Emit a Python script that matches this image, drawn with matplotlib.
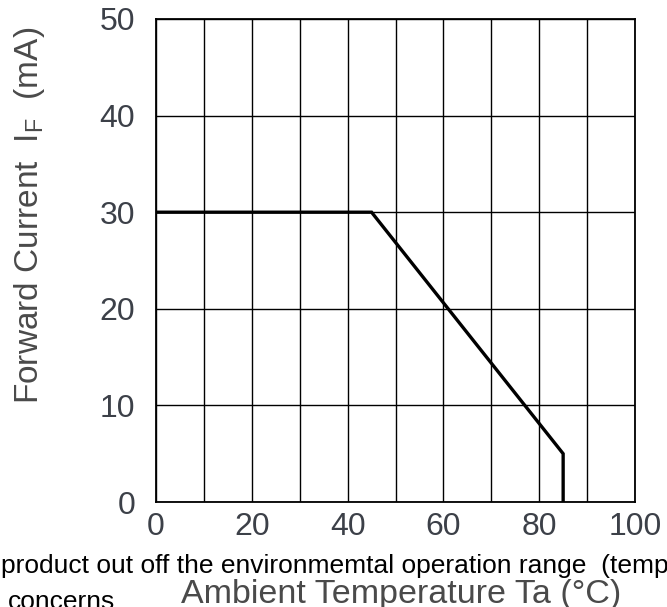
import matplotlib
matplotlib.use("Agg")
import matplotlib.pyplot as plt

plt.rcParams['font.family'] = ['Liberation Sans', 'DejaVu Sans']

# data
temp = [0, 45, 85, 85]
current = [30, 30, 5, 0]
x_ticks = [0, 20, 40, 60, 80, 100]
y_ticks = [0, 10, 20, 30, 40, 50]
x_grid = list(range(0, 101, 10))
y_grid = list(range(0, 51, 10))

W, H = 667, 607
fig = plt.figure(figsize=(W / 100, H / 100), dpi=100)
ax = fig.add_axes([156 / W, 1 - 502 / H, 479 / W, 483 / H])
ax.set_xlim(0, 100)
ax.set_ylim(0, 50)

for gx in x_grid:
    ax.axvline(gx, color='black', lw=1.0, zorder=1)
for gy in y_grid:
    ax.axhline(gy, color='black', lw=1.0, zorder=1)

ax.plot(temp, current, color='black', lw=2.4, zorder=3, solid_joinstyle='miter')

for s in ax.spines.values():
    s.set_linewidth(1.3)
    s.set_color('black')

ax.set_xticks(x_ticks)
ax.set_yticks(y_ticks)
ax.tick_params(length=0, labelsize=23, labelcolor='#3c4048')
ax.tick_params(axis='x', pad=7)
ax.tick_params(axis='y', pad=15)

ax.set_xlabel('Ambient Temperature Ta (°C)', fontsize=24.5, color='#4a4a4a')
ax.xaxis.set_label_coords((401 - 156) / 479, -(603 - 502) / 483)
ax.xaxis.label.set_va('baseline')
ax.set_ylabel('Forward Current  I$_\\mathregular{F}$  (mA)', fontsize=24, color='#4a4a4a')
ax.yaxis.set_label_coords((30 - 156) / 479, (502 - 215) / 483)
ax.yaxis.label.set_va('center')

fig.text(1 / W, 1 - 573 / H, 'product out off the environmemtal operation range  (temp',
         fontsize=19, color='black', va='baseline', ha='left')
fig.text(8 / W, 1 - 609 / H, 'concerns', fontsize=19, color='black', va='baseline', ha='left')

fig.savefig('out.png', dpi=100)
